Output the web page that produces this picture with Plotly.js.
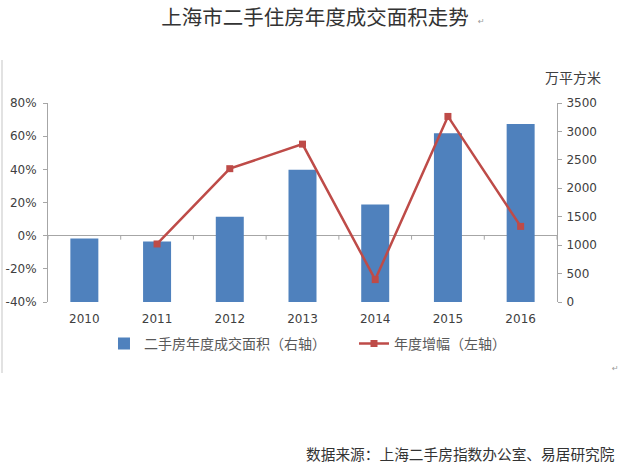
<!DOCTYPE html>
<html>
<head>
<meta charset="utf-8">
<script src="https://cdn.plot.ly/plotly-3.0.1.min.js"></script>
<style>html,body{margin:0;padding:0;background:#fff;}#chart{width:624px;height:472px;}</style>
</head>
<body>
<div id="chart"></div>
<script>
// ---- data ----
const years = ['2010', '2011', '2012', '2013', '2014', '2015', '2016'];
const volume = [1115, 1062, 1500, 2328, 1715, 2970, 3130];          // 万平方米 (right axis)
const growthYears = ['2011', '2012', '2013', '2014', '2015', '2016'];
const growth = [-5.0, 40.4, 55.2, -26.5, 71.9, 5.6];                 // % (left axis)
const leftTickVals = [-40, -20, 0, 20, 40, 60, 80];
const leftTickText = ['-40%', '-20%', '0%', '20%', '40%', '60%', '80%'];
const rightTickVals = [0, 500, 1000, 1500, 2000, 2500, 3000, 3500];
const titleText = '上海市二手住房年度成交面积走势';
const barName = '二手房年度成交面积（右轴）';
const lineName = '年度增幅（左轴）';
const unitText = '万平方米';
const sourceText = '数据来源：上海二手房指数办公室、易居研究院';

const axisGray = '#a6a6a6';
const tickFont = {family: 'DejaVu Sans, sans-serif', size: 12, color: '#404040'};
const cjk = 'Noto Sans CJK SC, sans-serif';

const traces = [
  {
    type: 'bar', name: barName, x: years, y: volume,
    xaxis: 'x', yaxis: 'y',
    width: 0.385,
    marker: {color: '#4F81BD', line: {width: 0}},
    hoverinfo: 'skip'
  },
  {
    type: 'scatter', mode: 'lines+markers', name: lineName,
    x: growthYears, y: growth, xaxis: 'x', yaxis: 'y2',
    line: {color: '#BE4B48', width: 2.5},
    marker: {symbol: 'square', size: 7, color: '#BE4B48'},
    hoverinfo: 'skip'
  }
];

// small category tick marks on the zero line (at category boundaries)
const shapes = [];
for (let i = 0; i <= years.length; i++) {
  shapes.push({
    type: 'line', xref: 'x', yref: 'y2',
    x0: i - 0.5, x1: i - 0.5,
    ysizemode: 'pixel', yanchor: 0, y0: 0, y1: -4,
    line: {color: axisGray, width: 1}
  });
}
// faint border of the embedded picture at the left
shapes.push({
  type: 'line', xref: 'paper', yref: 'paper',
  x0: -0.0904, x1: -0.0904, y0: 1.216, y1: -0.357,
  line: {color: '#e2e2e2', width: 2}
});

const layout = {
  width: 624, height: 472,
  margin: {l: 48, r: 67, t: 103, b: 170, pad: 0},
  paper_bgcolor: '#ffffff', plot_bgcolor: 'rgba(0,0,0,0)',
  showlegend: true,
  title: {
    text: titleText,
    x: 0.505, xref: 'container', xanchor: 'center',
    y: 0.962, yref: 'container', yanchor: 'middle',
    font: {family: cjk, size: 20.5, color: '#333333'}
  },
  xaxis: {
    type: 'category', categoryorder: 'array', categoryarray: years,
    range: [-0.5, 6.5],
    showline: false, showgrid: false, zeroline: false,
    ticks: 'outside', ticklen: 6, tickcolor: 'rgba(0,0,0,0)',
    tickfont: tickFont, fixedrange: true
  },
  yaxis: {
    side: 'right', range: [0, 3500],
    tickvals: rightTickVals,
    showline: true, linecolor: axisGray, linewidth: 1,
    ticks: 'outside', ticklen: 4, tickcolor: axisGray,
    ticklabelstandoff: 2,
    showgrid: false, zeroline: false,
    tickfont: tickFont, fixedrange: true
  },
  yaxis2: {
    side: 'left', overlaying: 'y', range: [-40, 80],
    tickvals: leftTickVals, ticktext: leftTickText,
    showline: true, linecolor: axisGray, linewidth: 1,
    ticks: 'outside', ticklen: 4, tickcolor: axisGray,
    ticklabelstandoff: 4,
    showgrid: false, zeroline: true, zerolinecolor: axisGray, zerolinewidth: 1,
    tickfont: tickFont, fixedrange: true
  },
  legend: {
    orientation: 'h', x: 0.11, xanchor: 'left', y: -0.21, yanchor: 'middle',
    font: {family: cjk, size: 14, color: '#595959'},
    bgcolor: 'rgba(0,0,0,0)', itemwidth: 30, traceorder: 'normal',
    entrywidth: 205, entrywidthmode: 'pixels'
  },
  shapes: shapes,
  annotations: [
    {
      text: unitText, xref: 'paper', yref: 'paper', x: 1.031, y: 1.13,
      xanchor: 'center', yanchor: 'middle', showarrow: false,
      font: {family: cjk, size: 14, color: '#404040'}
    },
    {
      text: sourceText, xref: 'paper', yref: 'paper', x: 0.503, y: -0.76,
      xanchor: 'left', yanchor: 'middle', showarrow: false,
      font: {family: cjk, size: 14.7, color: '#333333'}
    },
    {
      text: '↵', xref: 'paper', yref: 'paper', x: 0.852, y: 1.41,
      xanchor: 'center', yanchor: 'middle', showarrow: false,
      font: {family: 'DejaVu Sans, sans-serif', size: 8, color: '#999999'}
    },
    {
      text: '↵', xref: 'paper', yref: 'paper', x: 1.114, y: -0.333,
      xanchor: 'center', yanchor: 'middle', showarrow: false,
      font: {family: 'DejaVu Sans, sans-serif', size: 8, color: '#999999'}
    }
  ]
};

Plotly.newPlot('chart', traces, layout, {displayModeBar: false, staticPlot: true});
</script>
</body>
</html>
